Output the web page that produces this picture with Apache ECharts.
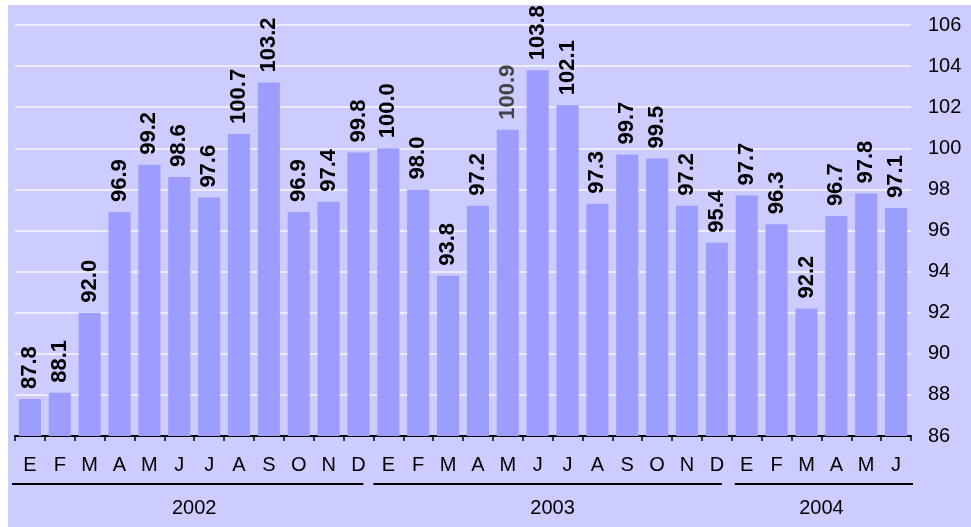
<!DOCTYPE html>
<html><head><meta charset="utf-8">
<script src="https://cdn.jsdelivr.net/npm/echarts@6/dist/echarts.min.js"></script>
<style>html,body{margin:0;padding:0;background:#fff;width:971px;height:527px;overflow:hidden;}
#c{position:absolute;left:8px;top:5px;width:963px;height:522px;background:#ccccff;}</style>
</head><body><div id="c"></div>
<script>
const months = ['E','F','M','A','M','J','J','A','S','O','N','D','E','F','M','A','M','J','J','A','S','O','N','D','E','F','M','A','M','J'];
const values = [87.8,88.1,92.0,96.9,99.2,98.6,97.6,100.7,103.2,96.9,97.4,99.8,100.0,98.0,93.8,97.2,100.9,103.8,102.1,97.3,99.7,99.5,97.2,95.4,97.7,96.3,92.2,96.7,97.8,97.1];
const years = ['2002','2003','2004'];
const yearStart = [0,12,24];
const yearEnd = [12,24,30];
const yTicks = [86,88,90,92,94,96,98,100,102,104,106];

const FONT = '"Liberation Sans", Arial, sans-serif';
const chart = echarts.init(document.getElementById('c'), null, {renderer:'canvas'});
const option = {
  backgroundColor: '#ccccff',
  animation: false,
  grid: {left: 7, right: 60, top: 20, bottom: 91, containLabel: false, outerBoundsMode: 'none'},
  xAxis: {
    type: 'category',
    data: months.map((m,i)=>({value: i+'', label: m})),
    boundaryGap: true,
    axisLine: {show: true, lineStyle: {color: '#000', width: 2}},
    axisTick: {show: true, inside: false, length: 5, alignWithLabel: false, lineStyle: {color: '#000', width: 1.5}},
    axisLabel: {show: true, interval: 0, margin: 19, fontSize: 20, fontFamily: FONT, color: '#000',
      formatter: (v, i) => months[i]},
    splitLine: {show: false}
  },
  yAxis: {
    type: 'value', position: 'right', min: yTicks[0], max: yTicks[yTicks.length-1], interval: 2,
    axisLine: {show: false}, axisTick: {show: false},
    axisLabel: {margin: 17, fontSize: 20, fontFamily: FONT, color: '#000'},
    splitLine: {show: true, lineStyle: {color: '#ffffff', width: 1.5, opacity: 0.85}}
  },
  series: [{
    type: 'bar',
    data: values.map((v,i)=>({value: v, label: i===16 ? {color: '#444'} : undefined})),
    barCategoryGap: '26%',
    itemStyle: {color: '#9d9dff'},
    label: {show: true, position: 'top', rotate: 90, align: 'left', verticalAlign: 'middle', distance: 10,
      fontSize: 22, fontWeight: 'bold', fontFamily: FONT, color: '#000',
      formatter: p => p.value.toFixed(1)}
  }]
};
chart.setOption(option);

function drawYears(){
  const c0 = chart.convertToPixel({xAxisIndex:0}, 0);
  const c1 = chart.convertToPixel({xAxisIndex:0}, 1);
  const band = c1 - c0;
  const axisY = chart.convertToPixel({yAxisIndex:0}, yTicks[0]);
  const els = [];
  years.forEach((y, k) => {
    const b0 = c0 + (yearStart[k]) * band - band/2;
    const b1 = c0 + (yearEnd[k]) * band - band/2;
    const x1 = b0 + (k===0 ? -3 : (k===2 ? 3 : 0));
    const x2 = k===2 ? b1 + 2 : b1 - 10;
    els.push({type:'line', shape:{x1:x1, y1:axisY+48, x2:x2, y2:axisY+48}, style:{stroke:'#000', lineWidth:2}});
    els.push({type:'text', x:(b0+b1)/2, y:axisY+72, style:{text:y, fontSize:20, fontFamily:FONT, fill:'#000', align:'center', verticalAlign:'middle'}});
  });
  chart.setOption({graphic: els});
}
drawYears();
</script></body></html>
